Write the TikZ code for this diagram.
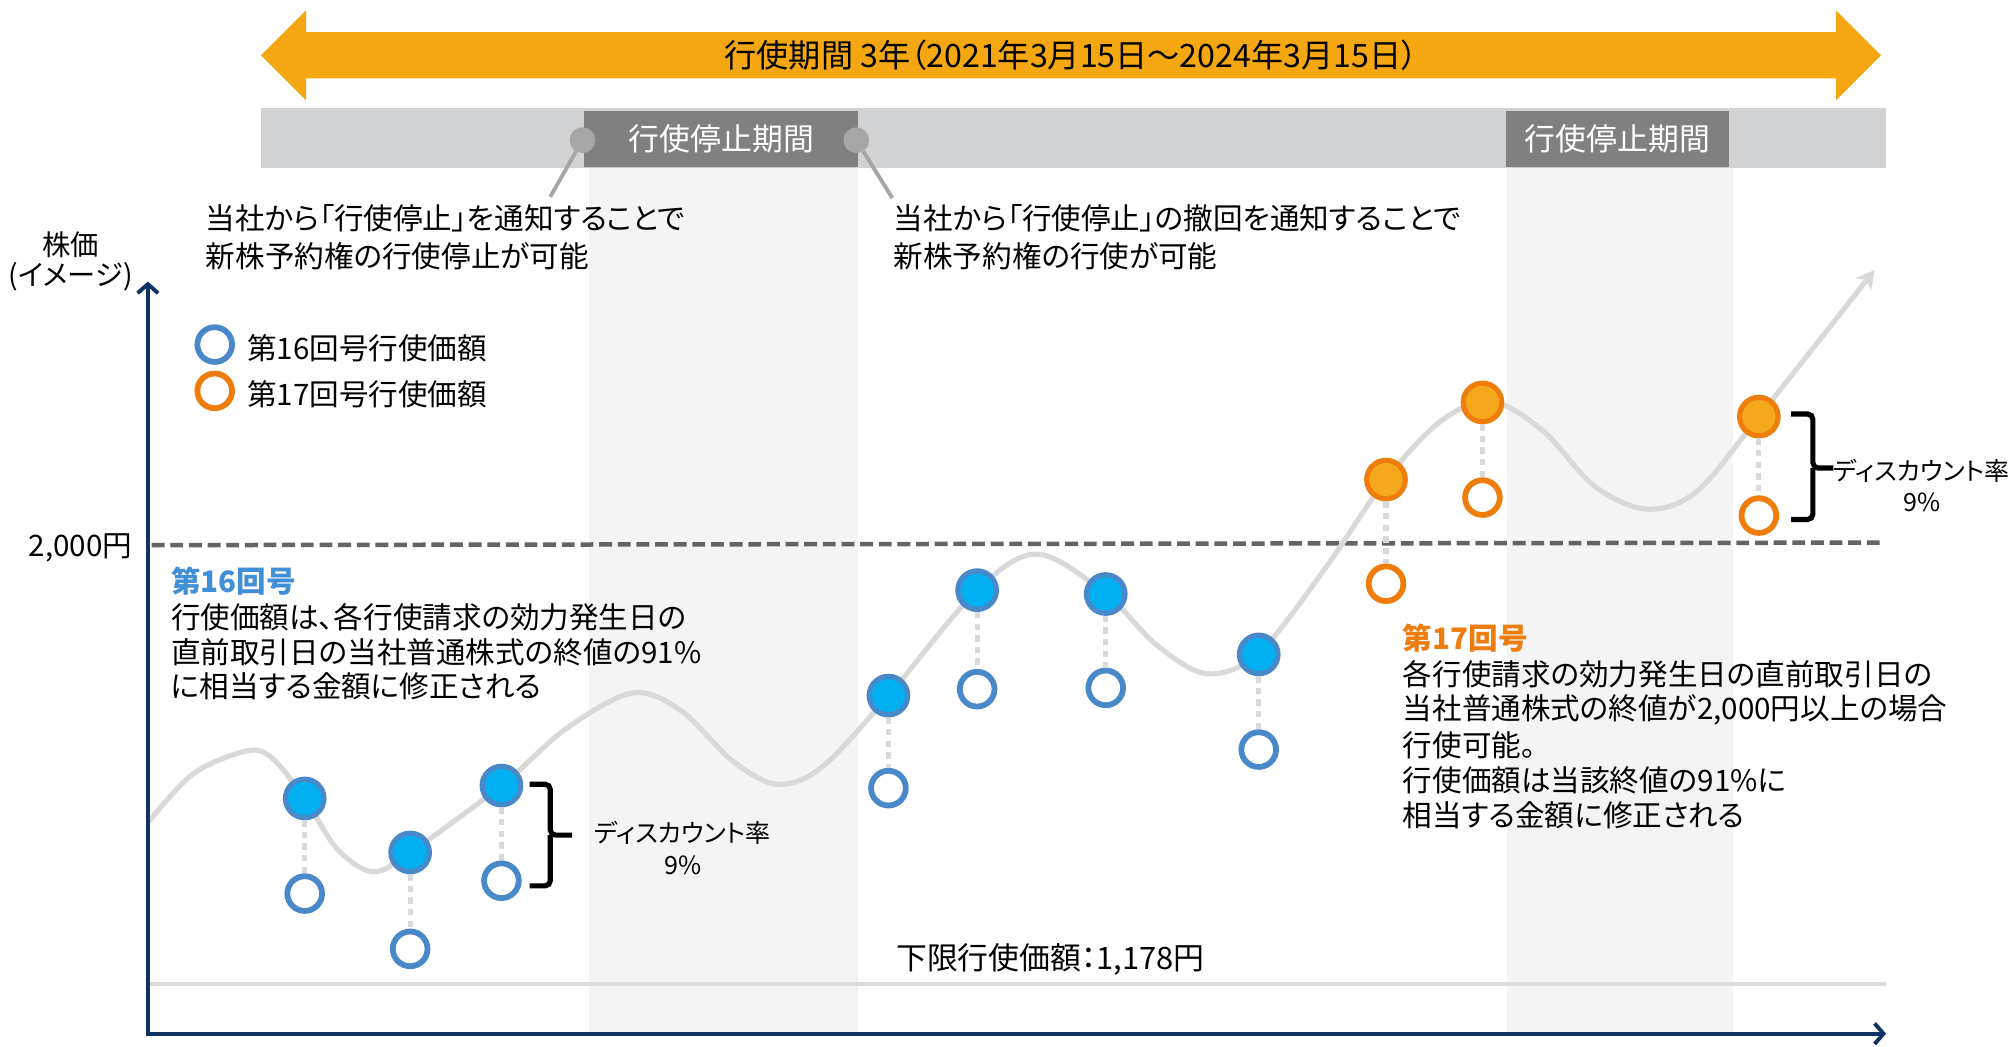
\documentclass[tikz,border=0pt]{standalone}
\usepackage{fontspec}
\setmainfont{Noto Sans CJK JP}[RawFeature=+palt]
\usetikzlibrary{arrows.meta}
\definecolor{arrowor}{HTML}{F5A711}
\definecolor{barg}{HTML}{D1D2D4}
\definecolor{boxg}{HTML}{808080}
\definecolor{bandg}{HTML}{F4F4F4}
\definecolor{leadg}{HTML}{A6A6A6}
\definecolor{navy}{HTML}{0E3262}
\definecolor{blueT}{HTML}{418FD6}
\definecolor{bfill}{HTML}{00B0F0}
\definecolor{bline}{HTML}{4A89C9}
\definecolor{ofill}{HTML}{F5A81C}
\definecolor{oline}{HTML}{EE7D0C}
\definecolor{oT}{HTML}{ED7D0E}
\definecolor{dashg}{HTML}{636467}
\definecolor{curveg}{HTML}{D9D9D9}
\definecolor{lowg}{HTML}{DCDCDC}
\begin{document}
\begin{tikzpicture}[x=1pt,y=-1pt,
  txt/.style={font=\fontsize{23}{28}\selectfont, inner sep=0pt, anchor=west},
  ctxt/.style={font=\fontsize{23}{28}\selectfont, inner sep=0pt},
  disc/.style={font=\fontsize{19.5}{24}\selectfont, inner sep=0pt},
  bdot/.style={circle, draw=bline, fill=bfill, line width=4pt, minimum size=30pt, inner sep=0pt},
  bhol/.style={circle, draw=bline, fill=white, line width=4.5pt, minimum size=27pt, inner sep=0pt},
  odot/.style={circle, draw=oline, fill=ofill, line width=4pt, minimum size=30pt, inner sep=0pt},
  ohol/.style={circle, draw=oline, fill=white, line width=4.5pt, minimum size=27pt, inner sep=0pt},
  conn/.style={draw=curveg, line width=4pt, dash pattern=on 5pt off 4pt},
  stopbox/.style={fill=boxg, text=white, minimum height=44pt, inner sep=0pt, font=\fontsize{24}{28}\selectfont},
  knob/.style={circle, fill=leadg, minimum size=20pt, inner sep=0pt},
  lead/.style={draw=leadg, line width=3pt},
  bracepath/.style={draw=black, line width=4pt, rounded corners=4pt},
]
\useasboundingbox (0,0) rectangle (1568,814);
\fill[white] (0,0) rectangle (1568,814);

% light bands
\fill[bandg] (458,131) rectangle (667,804);
\fill[bandg] (1172,131) rectangle (1348,804);

% gray bar and stop boxes
\fill[barg] (203,84) rectangle (1467,131);
\node[stopbox, minimum width=213pt] (stop1) at (561,108) {行使停止期間};
\node[stopbox, minimum width=174pt] (stop2) at (1258,108) {行使停止期間};

% orange double arrow
\fill[arrowor] (203,43) -- (238,8) -- (238,25) -- (1428,25) -- (1428,8) -- (1463,43)
  -- (1428,78) -- (1428,61) -- (238,61) -- (238,78) -- cycle;
\node[font=\fontsize{25}{29}\selectfont, inner sep=0pt] (title) at (833,43) {行使期間 3年（2021年3月15日～2024年3月15日）};

% knobs and leaders
\node[knob] (k1) at (453,109) {};
\node[knob] (k2) at (666,109) {};
\coordinate (l1) at (428,153);
\coordinate (l2) at (694,154);
\draw[lead] (k1) -- (l1);
\draw[lead] (k2) -- (l2);

% annotations
\node[txt] (a1) at (160,170) {当社から「行使停止」を通知することで};
\node[txt] (a2) at (160,199) {新株予約権の行使停止が可能};
\node[txt] (a3) at (695,170) {当社から「行使停止」の撤回を通知することで};
\node[txt] (a4) at (695,199) {新株予約権の行使が可能};

% y label
\node[ctxt, font=\fontsize{22}{26}\selectfont] (yl1) at (55,190) {株価};
\node[ctxt, font=\fontsize{22}{26}\selectfont] (yl2) at (55,215) {(イメージ)};

% legend
\node[bhol] (lg1) at (167,268) {};
\node[ohol] (lg2) at (167,304) {};
\node[txt] (lt1) at (192,271) {第16回号行使価額};
\node[txt] (lt2) at (192,307) {第17回号行使価額};

% 2000 line
\coordinate (d1) at (118,424);
\coordinate (d2) at (1466,422);
\draw[dashg, line width=3.5pt, dash pattern=on 10pt off 4.5pt] (d1) -- (d2);
\node[txt, anchor=east] (p2000) at (103,426) {2,000円};

% lower limit line
\coordinate (m1) at (115,765);
\coordinate (m2) at (1467,765);
\draw[lowg, line width=3pt] (m1) -- (m2);
\node[ctxt, font=\fontsize{24}{28}\selectfont] (low) at (817,746) {下限行使価額：1,178円};

% text block 16
\node[txt, text=blueT, font=\fontsize{23}{28}\selectfont\bfseries] (t16) at (133,452) {第16回号};
\node[txt] (t16a) at (133,480) {行使価額は、各行使請求の効力発生日の};
\node[txt] (t16b) at (133,507) {直前取引日の当社普通株式の終値の91\%};
\node[txt] (t16c) at (133,534) {に相当する金額に修正される};

% text block 17
\node[txt, text=oT, font=\fontsize{23}{28}\selectfont\bfseries] (t17) at (1091,496) {第17回号};
\node[txt] (t17a) at (1091,524) {各行使請求の効力発生日の直前取引日の};
\node[txt] (t17b) at (1091,552) {当社普通株式の終値が2,000円以上の場合};
\node[txt] (t17c) at (1091,580) {行使可能。};
\node[txt] (t17d) at (1091,607) {行使価額は当該終値の91\%に};
\node[txt] (t17e) at (1091,634) {相当する金額に修正される};

% price curve
\draw[curveg, line width=4pt, -{Stealth[length=14pt,width=15pt,inset=4pt]}]
  plot[smooth, tension=0.55] coordinates {
  (115,640) (150,602) (192,584) (212,590) (237,621) (262,660) (290,678) (319,663)
  (390,611) (440,567) (492,539) (530,553) (570,592) (605,610) (640,596) (691,541)
  (760,459) (807,431) (860,462) (900,502) (939,524) (979,508) (1030,443) (1078,373)
  (1120,328) (1159,312) (1200,335) (1240,378) (1281,396) (1320,382) (1368,324) (1458,210)};

% dots
\node[bdot] (b1) at (237,621) {};
\node[bdot] (b2) at (319,663) {};
\node[bdot] (b3) at (390,611) {};
\node[bdot] (b4) at (691,541) {};
\node[bdot] (b5) at (760,459) {};
\node[bdot] (b6) at (860,462) {};
\node[bdot] (b7) at (979,509) {};
\node[bhol] (h1) at (237,695) {};
\node[bhol] (h2) at (319,738) {};
\node[bhol] (h3) at (390,685) {};
\node[bhol] (h4) at (691,613) {};
\node[bhol] (h5) at (760,536) {};
\node[bhol] (h6) at (860,535) {};
\node[bhol] (h7) at (979,583) {};
\node[odot] (o1) at (1078,373) {};
\node[odot] (o2) at (1153,313) {};
\node[odot] (o3) at (1368,324) {};
\node[ohol] (q1) at (1078,454) {};
\node[ohol] (q2) at (1153,387) {};
\node[ohol] (q3) at (1368,401) {};
\foreach \a/\b in {b1/h1,b2/h2,b3/h3,b4/h4,b5/h5,b6/h6,b7/h7,o1/q1,o2/q2,o3/q3}
  \draw[conn] (\a) -- (\b);

% axes
\coordinate (ytop) at (115,219);
\coordinate (O) at (115,804);
\coordinate (xend) at (1467,804);
\draw[navy, line width=3pt, line join=miter,
  {Straight Barb[length=7pt,width=16pt,line width=3pt]}-{Straight Barb[length=7pt,width=16pt,line width=3pt]}]
  (ytop) -- (O) -- (xend);

% braces
\draw[bracepath] (412,610) -| (428,649.5) -- (445,649.5);
\draw[bracepath] (412,689) -| (428,649.5);
\node[disc] (dc1) at (531,648) {ディスカウント率};
\node[disc] (dc1b) at (531,673) {9\%};
\draw[bracepath] (1393,322) -| (1410,364) -- (1426,364);
\draw[bracepath] (1393,404) -| (1410,364);
\node[disc, anchor=west] (dc2) at (1426,366) {ディスカウント率};
\node[disc] (dc2b) at (1495,391) {9\%};
\end{tikzpicture}
\end{document}
